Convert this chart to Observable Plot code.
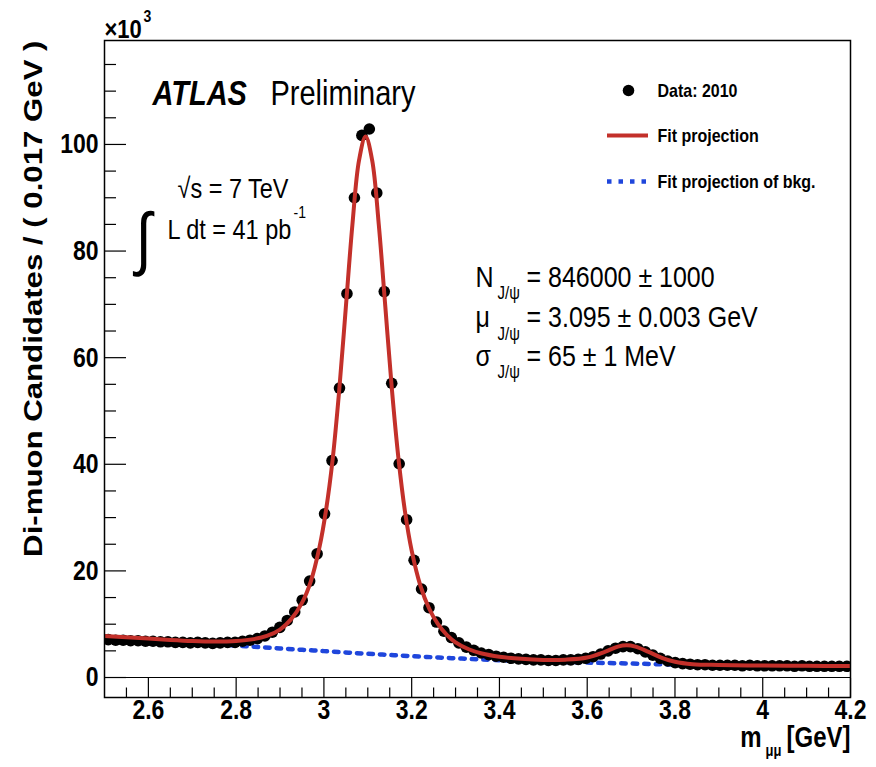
<!DOCTYPE html>
<html><head><meta charset="utf-8">
<script src="https://cdn.jsdelivr.net/npm/d3@7"></script>
<script src="https://cdn.jsdelivr.net/npm/@observablehq/plot@0.6"></script>
<style>body{margin:0;background:#fff;} #chart svg{display:block;}</style>
</head><body><div id="chart"></div>
<script>
// ---- histogram binning (bin width as in y-axis title) ----
const binLow = 2.5, binWidth = 0.017;
// ---- data: di-muon candidates per bin, in units of 10^3 ----
const counts = [
  7.1, 7.0, 7.0, 6.9, 6.9, 6.8, 6.8, 6.7, 6.7, 6.6,
  6.6, 6.5, 6.6, 6.5, 6.4, 6.5, 6.6, 6.6, 6.8, 7.0,
  7.3, 7.8, 8.5, 9.4, 10.7, 12.3, 14.5, 18.1, 23.2, 30.7,
  40.7, 54.3, 72.0, 90.0, 101.7, 102.9, 90.9, 72.4, 55.2, 40.1,
  29.6, 22.0, 16.6, 13.1, 10.4, 8.7, 7.5, 6.5, 5.7, 5.1,
  4.6, 4.3, 4.0, 3.8, 3.6, 3.5, 3.4, 3.3, 3.3, 3.2,
  3.2, 3.3, 3.3, 3.4, 3.6, 3.9, 4.4, 5.0, 5.5, 5.8,
  5.8, 5.4, 4.8, 4.2, 3.6, 3.1, 2.8, 2.6, 2.5, 2.4,
  2.4, 2.3, 2.3, 2.3, 2.3, 2.2, 2.3, 2.2, 2.2, 2.2,
  2.2, 2.2, 2.1, 2.2, 2.1, 2.1, 2.1, 2.1, 2.1, 2.1
];
// ---- fit projection (signal + background) ----
const fitMass = [2.500, 2.550, 2.600, 2.650, 2.700, 2.750, 2.800, 2.840, 2.870, 2.900,
  2.925, 2.950, 2.970, 2.990, 3.005, 3.020, 3.035, 3.050, 3.065, 3.080,
  3.095, 3.110, 3.125, 3.140, 3.155, 3.170, 3.185, 3.200, 3.220, 3.240,
  3.260, 3.280, 3.300, 3.330, 3.360, 3.400, 3.450, 3.500, 3.550, 3.600,
  3.640, 3.670, 3.690, 3.710, 3.740, 3.770, 3.800, 3.840, 3.900, 4.000, 4.100, 4.200];
const fitValue = [7.8, 7.55, 7.3, 7.05, 6.85, 6.75, 6.85, 7.2, 7.8, 9.0,
  10.9, 14.0, 18.0, 24.5, 31.5, 41.0, 54.0, 69.5, 85.0, 97.0,
  101.5, 97.0, 85.0, 69.5, 54.0, 41.0, 31.0, 23.8, 17.2, 12.9,
  10.0, 8.0, 6.6, 5.3, 4.5, 3.9, 3.5, 3.3, 3.35, 3.75,
  4.8, 5.8, 6.05, 5.8, 4.8, 3.7, 2.95, 2.5, 2.35, 2.25, 2.2, 2.15];
// ---- fit projection of background ----
const bkgMass = [2.5, 2.6, 2.7, 2.8, 2.9, 3.0, 3.1, 3.2, 3.3, 3.4, 3.5, 3.6, 3.7, 3.8, 3.9, 4.0, 4.1, 4.2];
const bkgValue = [7.7, 7.1, 6.55, 6.0, 5.45, 4.95, 4.45, 4.0, 3.6, 3.25, 3.0, 2.8, 2.62, 2.42, 2.3, 2.2, 2.15, 2.1];
// ---- ticks ----
const xTicksMajor = [2.6, 2.8, 3.0, 3.2, 3.4, 3.6, 3.8, 4.0, 4.2];
const xTickLabels = ["2.6", "2.8", "3", "3.2", "3.4", "3.6", "3.8", "4", "4.2"];
const xTicksMinor = [2.55, 2.65, 2.7, 2.75, 2.85, 2.9, 2.95, 3.05, 3.1, 3.15, 3.25, 3.3, 3.35,
  3.45, 3.5, 3.55, 3.65, 3.7, 3.75, 3.85, 3.9, 3.95, 4.05, 4.1, 4.15];
const yTicksMajor = [0, 20, 40, 60, 80, 100];
const yTickLabels = ["0", "20", "40", "60", "80", "100"];
const yTicksMinor = [5, 10, 15, 25, 30, 35, 45, 50, 55, 65, 70, 75, 85, 90, 95, 105, 110, 115];
// ---- legend entries ----
const legendLabels = ["Data: 2010", "Fit projection", "Fit projection of bkg."];

// ---- layout ----
const W = 876, H = 767, ML = 104, MR = 26, MT = 40, MB = 70;
const X0 = 2.5, X1 = 4.2, Y0 = -3.75, Y1 = 119.5;
const kx = (W - ML - MR) / (X1 - X0), ky = (H - MT - MB) / (Y1 - Y0);
const x2d = px => X0 + (px - ML) / kx;
const y2d = py => Y0 + (H - MB - py) / ky;
const SY = 1.2; // vertical text stretch of the original picture
const RED = "#c3302a", BLUE = "#1f46dc";
const FONT = "'Liberation Sans', Arial, Helvetica, sans-serif";

const data = counts.map((c, i) => ({mass: binLow + binWidth * (i + 0.5), count: c}));
const fit = fitMass.map((m, i) => ({mass: m, value: fitValue[i]}));
const bkg = bkgMass.map((m, i) => ({mass: m, value: bkgValue[i]}));

const lbl = (t, o) => Plot.text([t], {text: d => d, frameAnchor: "top-left", textAnchor: "start",
  lineAnchor: "middle", fill: "black", ...o});

const plot = Plot.plot({
  width: W, height: H, marginLeft: ML, marginRight: MR, marginTop: MT, marginBottom: MB,
  x: {domain: [X0, X1], axis: null},
  y: {domain: [Y0, Y1], axis: null},
  style: {fontFamily: FONT, background: "white", color: "black"},
  marks: [
    Plot.ruleY([0], {stroke: "black", strokeWidth: 1.2}),
    Plot.line(bkg, {x: "mass", y: "value", stroke: BLUE, strokeWidth: 4.5, strokeDasharray: "4.5,7", curve: "catmull-rom", clip: true}),
    Plot.dot(data, {x: "mass", y: "count", r: 5.8, fill: "black", clip: true}),
    Plot.line(fit, {x: "mass", y: "value", stroke: RED, strokeWidth: 4, curve: "catmull-rom", clip: true}),
    Plot.frame({stroke: "black", strokeWidth: 1.5}),
    // ticks
    Plot.ruleX(xTicksMajor, {x: d => d, y1: Y0, y2: y2d(H - MB - 19), stroke: "black", strokeWidth: 1.2}),
    Plot.ruleX(xTicksMinor, {x: d => d, y1: Y0, y2: y2d(H - MB - 9.5), stroke: "black", strokeWidth: 1.2}),
    Plot.ruleY(yTicksMajor, {y: d => d, x1: X0, x2: x2d(ML + 22), stroke: "black", strokeWidth: 1.2}),
    Plot.ruleY(yTicksMinor, {y: d => d, x1: X0, x2: x2d(ML + 12), stroke: "black", strokeWidth: 1.2}),
    // tick labels
    Plot.text(xTicksMajor, {x: d => d, text: (d, i) => xTickLabels[i], frameAnchor: "bottom", dy: 21, fontSize: 23, fontWeight: "bold"}),
    Plot.text(yTicksMajor, {y: d => d, text: (d, i) => yTickLabels[i], frameAnchor: "left", dx: -6, textAnchor: "end", fontSize: 23, fontWeight: "bold"}),
    // exponent
    lbl("×10", {dx: 0, dy: -11, fontSize: 22, fontWeight: "bold"}),
    lbl("3", {dx: 39, dy: -24, fontSize: 14, fontWeight: "bold"}),
    // axis titles
    lbl("Di-muon Candidates / ( 0.017 GeV )", {dx: -71, dy: 0, rotate: -90, textAnchor: "end", fontSize: 26, fontWeight: "bold"}),
    Plot.text(["[GeV]"], {text: d => d, frameAnchor: "bottom-right", textAnchor: "end", dy: 49, fontSize: 24, fontWeight: "bold"}),
    Plot.text(["μμ"], {text: d => d, frameAnchor: "bottom-right", textAnchor: "end", dx: -69, dy: 58, fontSize: 13, fontWeight: "bold"}),
    Plot.text(["m"], {text: d => d, frameAnchor: "bottom-right", textAnchor: "end", dx: -89, dy: 49, fontSize: 24, fontWeight: "bold"}),
    // ATLAS label
    lbl("ATLAS", {dx: 48, dy: 53, fontSize: 29, fontWeight: "bold", fontStyle: "italic"}),
    lbl("Preliminary", {dx: 166, dy: 53, fontSize: 29}),
    lbl("√s = 7 TeV", {dx: 73, dy: 148, fontSize: 23.5}),
    lbl("∫", {dx: 31, dy: 199, fontSize: 58}),
    lbl("L dt = 41 pb", {dx: 63, dy: 189, fontSize: 23.5}),
    lbl("-1", {dx: 189, dy: 172, fontSize: 14}),
    // fit results
    lbl("N", {dx: 371, dy: 237, fontSize: 25}),
    lbl("J/ψ", {dx: 393, dy: 253, fontSize: 15}),
    lbl("= 846000 ± 1000", {dx: 422, dy: 237, fontSize: 25}),
    lbl("μ", {dx: 371, dy: 277, fontSize: 25}),
    lbl("J/ψ", {dx: 393, dy: 294, fontSize: 15}),
    lbl("= 3.095 ± 0.003 GeV", {dx: 422, dy: 277, fontSize: 25}),
    lbl("σ", {dx: 371, dy: 316, fontSize: 25}),
    lbl("J/ψ", {dx: 393, dy: 332, fontSize: 15}),
    lbl("= 65 ± 1 MeV", {dx: 422, dy: 316, fontSize: 25}),
    // legend
    Plot.dot([0], {x: x2d(628), y: y2d(90), r: 5.8, fill: "black"}),
    Plot.ruleY([y2d(135)], {y: d => d, x1: x2d(607), x2: x2d(648), stroke: RED, strokeWidth: 4}),
    Plot.ruleY([y2d(181)], {y: d => d, x1: x2d(607), x2: x2d(648), stroke: BLUE, strokeWidth: 4.5, strokeDasharray: "4.5,7"}),
    lbl(legendLabels[0], {dx: 553, dy: 50, fontSize: 16, fontWeight: "bold"}),
    lbl(legendLabels[1], {dx: 553, dy: 95, fontSize: 16, fontWeight: "bold"}),
    lbl(legendLabels[2], {dx: 553, dy: 141, fontSize: 16, fontWeight: "bold"})
  ]
});

// stretch all text vertically like the original picture
plot.querySelectorAll("text").forEach(t => {
  const tr = t.getAttribute("transform");
  if (tr && /translate\([^)]*\)/.test(tr)) {
    t.setAttribute("transform", tr.replace(/(translate\([^)]*\))/, `$1 scale(1,${SY})`));
  } else {
    const x = +(t.getAttribute("x") || 0), y = +(t.getAttribute("y") || 0);
    t.setAttribute("transform", `translate(${x},${y}) scale(1,${SY}) translate(${-x},${-y}) ${tr || ""}`);
  }
});
document.getElementById("chart").appendChild(plot);
</script>
</body></html>
